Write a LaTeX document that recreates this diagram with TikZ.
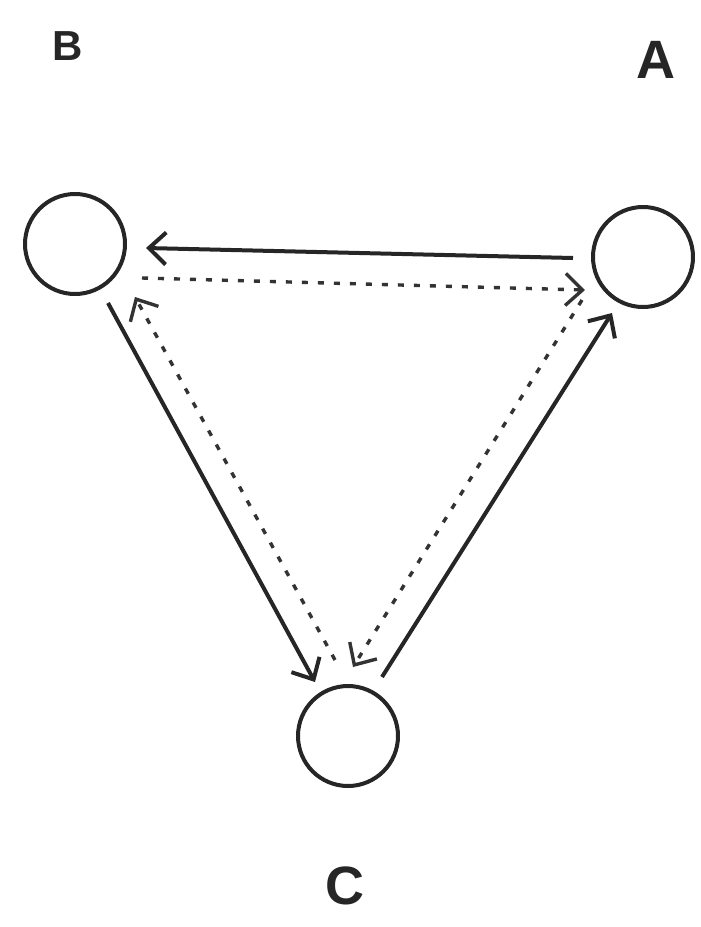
\documentclass[tikz,border=0pt]{standalone}
\usepackage{fontspec}
\setmainfont{Liberation Sans}
\usetikzlibrary{arrows.meta}

\begin{document}
\begin{tikzpicture}[
    x=1pt, y=-1pt,
    >={Straight Barb[length=17pt, width=32pt]},
    ring/.style={circle, draw=black!85, line width=4pt, minimum size=100pt, inner sep=0pt},
    lbl/.style={font=\fontsize{54}{54}\selectfont\bfseries, text=black!85},
    flow/.style={->, draw=black!85, line width=4pt},
    back/.style={->, draw=black!80, line width=3.4pt, dash pattern=on 6pt off 10pt},
  ]
    \useasboundingbox (0,0) rectangle (701,927);

    % ---------- stations ----------
    \node[ring] (A) at (643,257) {};
    \node[ring] (B) at (75,244)  {};
    \node[ring] (C) at (348,736) {};

    \node[lbl, font=\fontsize{42}{42}\selectfont\bfseries] (la) at (68,46) {B};
    \node[lbl] (lb) at (656,60)  {A};
    \node[lbl] (lc) at (345,886) {C};

    % ---------- solid: A -> B -> C -> A ----------
    \draw[flow] ([shift={(-70,1)}]A.center)  -- ([shift={(71,4)}]B.center);
    \draw[flow] ([shift={(33,59)}]B.center)  -- ([shift={(-33,-54)}]C.center);
    \draw[flow] ([shift={(34,-59)}]C.center) -- ([shift={(-31,56)}]A.center);

    % ---------- dashed: B -> A -> C -> B ----------
    \draw[back] ([shift={(67,34)}]B.center)  -- ([shift={(-58,33)}]A.center);
    \draw[back] ([shift={(-61,43)}]A.center) -- ([shift={(5,-69)}]C.center);
    \draw[back] ([shift={(-13,-76)}]C.center) -- ([shift={(60,53)}]B.center);
\end{tikzpicture}
\end{document}
